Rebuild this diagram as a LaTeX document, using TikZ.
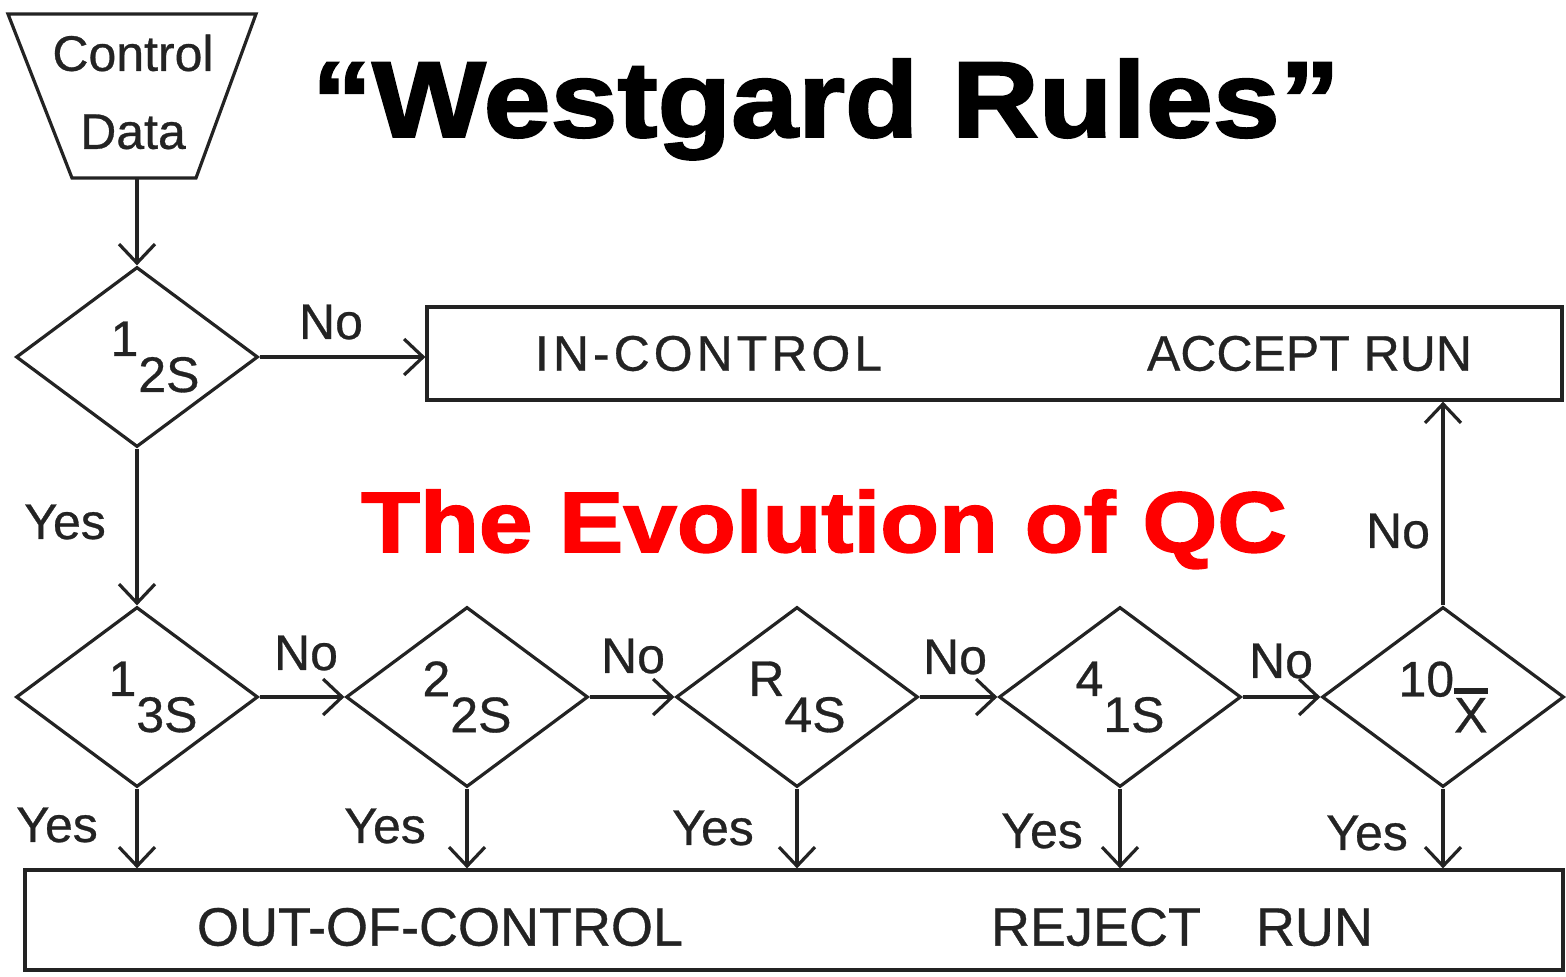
\documentclass[tikz,border=0pt]{standalone}
\usepackage{graphicx}
\usepackage{fontspec}
\setmainfont{Liberation Sans}[FakeBold=0.6]
\newfontfamily\titlefont[BoldFeatures={FakeBold=1.8}]{Liberation Sans}
\newfontfamily\spacedfont[LetterSpace=8,FakeBold=0.6]{Liberation Sans}
\usetikzlibrary{shapes.geometric,arrows.meta}
\definecolor{ink}{RGB}{35,35,35}
\definecolor{qcred}{RGB}{255,0,0}
\newcommand\rulelab[2]{#1\raisebox{-0.72em}{#2}}
\newcommand\xbarlab{\vbox{\hrule height 3pt\kern2pt\hbox{X}}}
\begin{document}
\begin{tikzpicture}[x=0.5pt,y=-0.5pt,
  inkline/.style={draw=ink,line width=1.6pt},
  flow/.style={inkline,-{Straight Barb[length=9.5pt,width=18pt,line width=1.6pt]}},
  decision/.style={diamond,inkline,minimum width=121pt,minimum height=90pt,inner sep=0pt,aspect=1.34,text=ink,font=\fontsize{25}{28}\selectfont},
  lbl/.style={font=\fontsize{25}{28}\selectfont,text=ink,inner sep=0pt},
  bigbox/.style={rectangle,inkline,inner sep=0pt,text=ink}
]
\useasboundingbox (0,0) rectangle (1566,977);

% titles
\node[font=\titlefont\bfseries\fontsize{54}{60}\selectfont,inner sep=0pt,anchor=base] (title) at (826,137) {\scalebox{1.115}[1]{“Westgard Rules”}};
\node[font=\titlefont\bfseries\fontsize{43}{48}\selectfont,text=qcred,inner sep=0pt,anchor=base] (evo) at (824,552) {\scalebox{1.12}[1]{The Evolution of QC}};

% control data
\draw[inkline] (8,14) -- (256,14) -- (196,178) -- (72,178) -- cycle;
\node[lbl,align=center,font=\fontsize{25}{39}\selectfont] (cd) at (133,92) {Control\\Data};
\coordinate (cdb) at (137,178);

% decisions
\node[decision] (d1) at (137,357) {\hspace*{18pt}\rulelab{1}{2S}};
\node[decision] (d2) at (137,697) {\hspace*{16pt}\rulelab{1}{3S}};
\node[decision] (d3) at (467,697) {\rulelab{2}{2S}};
\node[decision] (d4) at (797,697) {\rulelab{R}{4S}};
\node[decision] (d5) at (1120,697) {\rulelab{4}{1S}};
\node[decision] (d6) at (1443,697) {\rulelab{10}{\xbarlab}};

% boxes
\node[bigbox,minimum width=567.5pt,minimum height=46.5pt,font=\fontsize{25}{28}\selectfont] (inc) at (994.5,353.5)
  {\makebox[567.5pt][l]{\hspace*{54pt}{\spacedfont IN-CONTROL}\hfill ACCEPT RUN\hspace*{45pt}}};
\node[bigbox,minimum width=769pt,minimum height=50pt,font=\fontsize{27}{30}\selectfont] (out) at (794,920)
  {\raisebox{0pt}[\dimexpr\height+7pt\relax][\depth]{\makebox[769pt][l]{\hspace*{86pt}OUT-OF-CONTROL\hfill REJECT\hspace{20pt} RUN\hspace*{95pt}}}};

% connectors
\draw[flow] (cdb) -- (d1.north);
\draw[flow] (d1.east) -- (d1.east -| inc.west);
\draw[flow] (d1.south) -- (d2.north);
\draw[flow] (d2.east) -- (d3.west);
\draw[flow] (d3.east) -- (d4.west);
\draw[flow] (d4.east) -- (d5.west);
\draw[flow] (d5.east) -- (d6.west);
\draw[flow] (d6.north) -- (d6.north |- inc.south);
\foreach \d in {d2,d3,d4,d5,d6}{
  \draw[flow] (\d.south) -- (\d.south |- out.north);
}

% labels
\node[lbl] (no1) at (331,322) {No};
\node[lbl] (yes1) at (65,522) {Yes};
\node[lbl] (no2) at (306,653) {No};
\node[lbl] (no3) at (633,656) {No};
\node[lbl] (no4) at (955,657) {No};
\node[lbl] (no5) at (1281,661) {No};
\node[lbl] (no6) at (1398,531) {No};
\node[lbl] (yes2) at (57,825) {Yes};
\node[lbl] (yes3) at (385,826) {Yes};
\node[lbl] (yes4) at (713,828) {Yes};
\node[lbl] (yes5) at (1042,831) {Yes};
\node[lbl] (yes6) at (1367,833) {Yes};
\end{tikzpicture}
\end{document}
